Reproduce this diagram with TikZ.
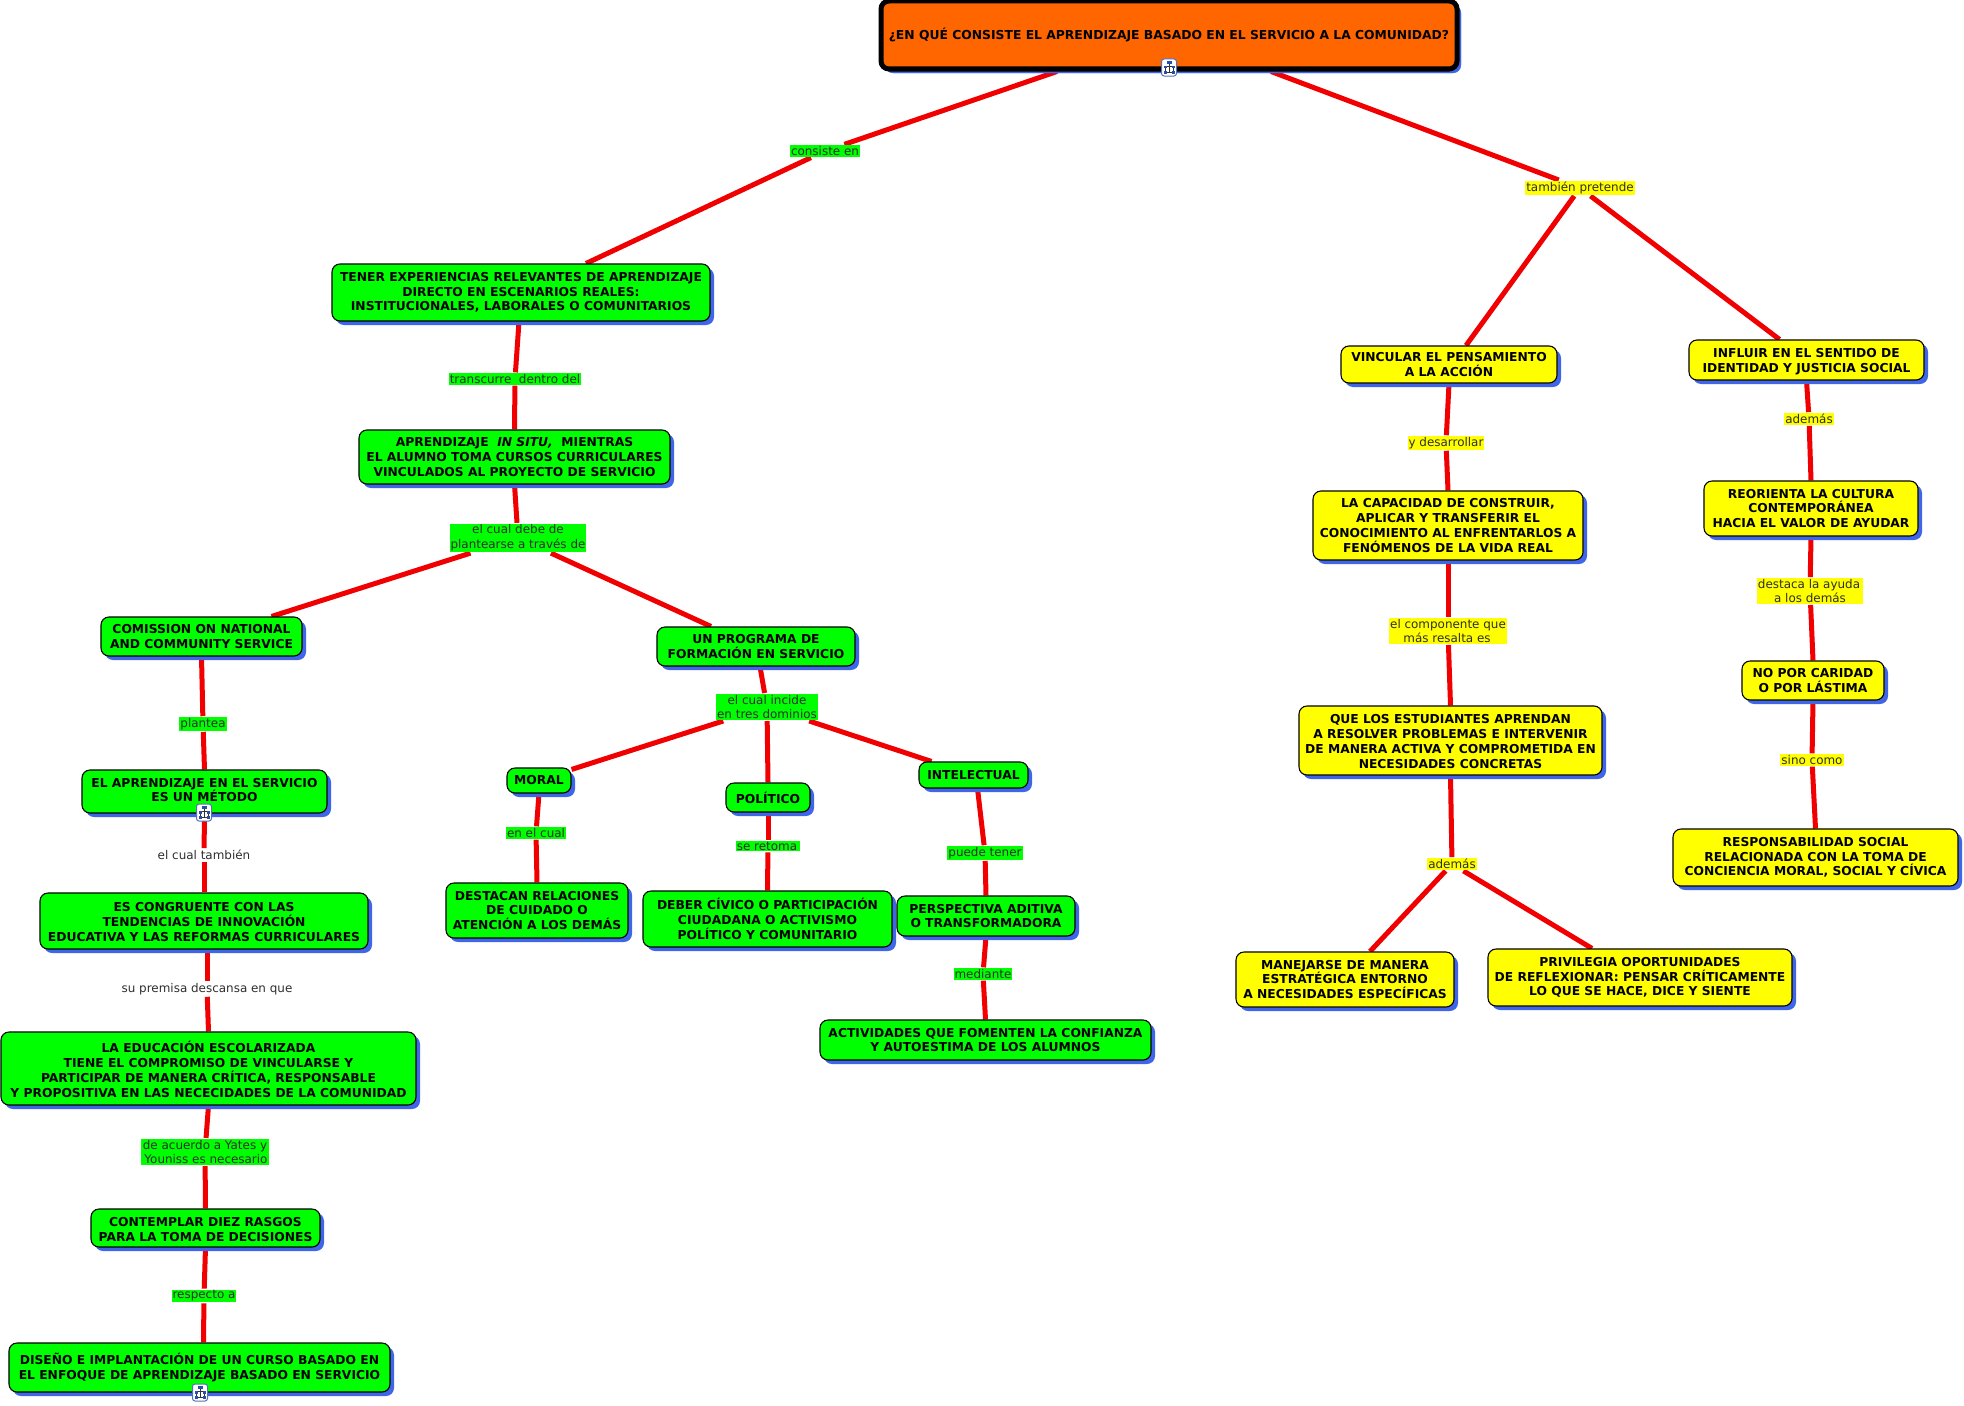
\documentclass[tikz,border=0pt]{standalone}
\usepackage{fontspec}
\setmainfont{DejaVu Sans}
\usetikzlibrary{shadows,backgrounds}
\definecolor{orangebox}{HTML}{FF6600}
\definecolor{shadowblue}{HTML}{3F66E8}
\definecolor{relred}{HTML}{F00000}
\definecolor{gr}{HTML}{00FF00}
\definecolor{ye}{HTML}{FFFF00}
\definecolor{iconblue}{HTML}{2A4FA8}
\tikzset{
  x=1pt,y=-1pt,
  box/.style={draw=black,line width=1.1pt,rounded corners=8pt,inner sep=0pt,align=center,
    font=\fontsize{12.3}{14.7}\selectfont\bfseries,text=black,
    drop shadow={shadow xshift=4pt,shadow yshift=-4pt,fill=shadowblue,opacity=1}},
  rootbox/.style={box,line width=5pt,fill=orangebox,
    font=\fontsize{12.35}{14.7}\selectfont\bfseries,
    drop shadow={shadow xshift=2.5pt,shadow yshift=-2.5pt,fill=shadowblue,opacity=1}},
  lab/.style={inner xsep=1pt,inner ysep=1pt,outer sep=1pt,align=center,
    font=\fontsize{11.95}{14.7}\selectfont,text=black!82},
  rel/.style={draw=relred,line width=5pt},
}
\newcommand{\dnt}[1]{\rule{0pt}{\dimexpr 9.2pt+#1pt+#1pt\relax}}
\newcommand{\upt}[1]{\rule[\dimexpr -#1pt-#1pt\relax]{0pt}{\dimexpr #1pt+#1pt\relax}}
\newcommand{\bx}[7][]{%
  \pgfmathsetmacro{\bw}{#5-#3}\pgfmathsetmacro{\bh}{#6-#4}%
  \pgfmathsetmacro{\bcx}{(#5+#3)/2}\pgfmathsetmacro{\bcy}{(#6+#4)/2}%
  \node[box,#1,minimum width=\bw pt,minimum height=\bh pt] (#2) at (\bcx,\bcy) {#7};}
\newcommand{\lb}[5]{\node[lab,fill=#4] (#1) at (#2,#3+1) {#5};}
\newcommand{\mapicon}[2]{%
  \begin{scope}[shift={(#1,#2)}]
    \draw[fill=white,draw=iconblue!80,line width=1pt,rounded corners=2.5pt] (-7.5,-8.5) rectangle (7.5,8.5);
    \draw[black!80,line width=.7pt] (0,-4) -- (0,-1) (-4,-1) -- (4,-1) (-4,-1) -- (-4,4) (4,-1) -- (4,4) (0,-1) -- (0,4) (-4,5) -- (4,5);
    \fill[iconblue] (-2.5,-6.5) rectangle (2.5,-3.5);
    \fill[iconblue] (-5.5,-1.5) rectangle (-2.5,1);
    \fill[iconblue] (2.5,-1.5) rectangle (5.5,1);
    \fill[iconblue] (-5.5,3.5) rectangle (-2.5,6);
    \fill[iconblue] (2.5,3.5) rectangle (5.5,6);
  \end{scope}}
\begin{document}
\begin{tikzpicture}
\useasboundingbox (0,0) rectangle (1964,1405);
% concepts
\bx[rootbox]{root}{881}{1}{1457}{69}{¿EN QUÉ CONSISTE EL APRENDIZAJE BASADO EN EL SERVICIO A LA COMUNIDAD?\upt{0.8}}
\bx[fill=gr]{a}{332}{264}{710}{321}{TENER EXPERIENCIAS RELEVANTES DE APRENDIZAJE\\DIRECTO EN ESCENARIOS REALES:\\INSTITUCIONALES, LABORALES O COMUNITARIOS}
\bx[fill=gr]{b}{359}{430}{670}{484}{APRENDIZAJE \ \textit{IN SITU,} \ MIENTRAS\\EL ALUMNO TOMA CURSOS CURRICULARES\\VINCULADOS AL PROYECTO DE SERVICIO}
\bx[fill=gr]{c}{101}{617}{302}{656}{COMISSION ON NATIONAL\\AND COMMUNITY SERVICE}
\bx[fill=gr]{d}{657}{627}{855}{666}{UN PROGRAMA DE\\FORMACIÓN EN SERVICIO}
\bx[fill=gr]{e}{82}{770}{327}{813}{EL APRENDIZAJE EN EL SERVICIO\\ES UN MÉTODO\upt{1.5}}
\bx[fill=gr]{f}{40}{893}{368}{949}{\dnt{1}ES CONGRUENTE CON LAS\\TENDENCIAS DE INNOVACIÓN\\EDUCATIVA Y LAS REFORMAS CURRICULARES}
\bx[fill=gr]{g}{1}{1032}{416}{1105}{\dnt{2}LA EDUCACIÓN ESCOLARIZADA\\TIENE EL COMPROMISO DE VINCULARSE Y\\PARTICIPAR DE MANERA CRÍTICA, RESPONSABLE\\Y PROPOSITIVA EN LAS NECECIDADES DE LA COMUNIDAD}
\bx[fill=gr]{h}{91}{1209}{320}{1247}{\dnt{1.5}CONTEMPLAR DIEZ RASGOS\\PARA LA TOMA DE DECISIONES}
\bx[fill=gr]{i}{9}{1343}{390}{1392}{DISEÑO E IMPLANTACIÓN DE UN CURSO BASADO EN\\EL ENFOQUE DE APRENDIZAJE BASADO EN SERVICIO}
\bx[fill=gr]{moral}{507}{768}{571}{793}{MORAL}
\bx[fill=gr]{pol}{726}{783}{810}{812}{POLÍTICO}
\bx[fill=gr]{inte}{919}{762}{1028}{788}{INTELECTUAL}
\bx[fill=gr]{dest}{446}{883}{628}{938}{DESTACAN RELACIONES\\DE CUIDADO O\\ATENCIÓN A LOS DEMÁS}
\bx[fill=gr]{deber}{643}{891}{892}{947}{DEBER CÍVICO O PARTICIPACIÓN\\CIUDADANA O ACTIVISMO\\POLÍTICO Y COMUNITARIO}
\bx[fill=gr]{pers}{897}{896}{1075}{936}{PERSPECTIVA ADITIVA\\O TRANSFORMADORA}
\bx[fill=gr]{act}{820}{1020}{1151}{1060}{ACTIVIDADES QUE FOMENTEN LA CONFIANZA\\Y AUTOESTIMA DE LOS ALUMNOS}
\bx[fill=ye]{vinc}{1341}{346}{1557}{383}{VINCULAR EL PENSAMIENTO\\A LA ACCIÓN}
\bx[fill=ye]{infl}{1689}{340}{1924}{380}{\dnt{1.5}INFLUIR EN EL SENTIDO DE\\IDENTIDAD Y JUSTICIA SOCIAL}
\bx[fill=ye]{capa}{1313}{491}{1583}{560}{LA CAPACIDAD DE CONSTRUIR,\\APLICAR Y TRANSFERIR EL\\CONOCIMIENTO AL ENFRENTARLOS A\\FENÓMENOS DE LA VIDA REAL}
\bx[fill=ye]{reor}{1704}{481}{1918}{536}{REORIENTA LA CULTURA\\CONTEMPORÁNEA\\HACIA EL VALOR DE AYUDAR}
\bx[fill=ye]{nopor}{1742}{661}{1884}{700}{NO POR CARIDAD\\O POR LÁSTIMA}
\bx[fill=ye]{que}{1299}{706}{1602}{775}{\dnt{1}QUE LOS ESTUDIANTES APRENDAN\\A RESOLVER PROBLEMAS E INTERVENIR\\DE MANERA ACTIVA Y COMPROMETIDA EN\\NECESIDADES CONCRETAS}
\bx[fill=ye]{resp}{1673}{829}{1958}{886}{RESPONSABILIDAD SOCIAL\\RELACIONADA CON LA TOMA DE\\CONCIENCIA MORAL, SOCIAL Y CÍVICA}
\bx[fill=ye]{manej}{1236}{952}{1454}{1007}{MANEJARSE DE MANERA\\ESTRATÉGICA ENTORNO\\A NECESIDADES ESPECÍFICAS}
\bx[fill=ye]{priv}{1488}{949}{1792}{1006}{PRIVILEGIA OPORTUNIDADES\\DE REFLEXIONAR: PENSAR CRÍTICAMENTE\\LO QUE SE HACE, DICE Y SIENTE}
% link labels
\lb{l1}{825}{150}{gr}{consiste en}
\lb{l2}{1580}{187}{ye}{también pretende}
\lb{l3}{515}{378}{gr}{transcurre \ dentro del}
\lb{l4}{518}{537}{gr}{el cual debe de\\plantearse a través de}
\lb{l5}{203}{723}{gr}{plantea}
\lb{l6}{204}{854}{white}{el cual también}
\lb{l7}{207}{988}{white}{su premisa descansa en que}
\lb{l8}{205}{1151}{gr}{de acuerdo a Yates y\\ \,Youniss es necesario}
\lb{l9}{204}{1295}{gr}{respecto a}
\lb{l10}{767}{706}{gr}{el cual incide\\en tres dominios}
\lb{l11}{536}{832}{gr}{en el cual}
\lb{l12}{768}{845}{gr}{se retoma\,}
\lb{l13}{985}{852}{gr}{puede tener}
\lb{l14}{983}{973}{gr}{mediante}
\lb{l15}{1446}{442}{ye}{y desarrollar}
\lb{l16}{1809}{418}{ye}{además}
\lb{l17}{1448}{630}{ye}{el componente que\\más resalta es\,}
\lb{l18}{1810}{590}{ye}{destaca la ayuda\,\\a los demás}
\lb{l19}{1812}{759}{ye}{sino como}
\lb{l20}{1452}{863}{ye}{además}
% connectors
\begin{scope}[on background layer]
\draw[rel] ([xshift=-112pt]root.south) -- (l1);
\draw[rel] (l1) -- ([xshift=65pt]a.north);
\draw[rel] ([xshift=102pt]root.south) -- (l2);
\draw[rel] (l2) -- ([xshift=17pt]vinc.north);
\draw[rel] (l2) -- ([xshift=-27pt]infl.north);
\draw[rel] ([xshift=-2pt]a.south) -- (l3);
\draw[rel] (l3) -- (b.north);
\draw[rel] (b.south) -- (l4);
\draw[rel] (l4) -- ([xshift=70pt]c.north);
\draw[rel] (l4) -- ([xshift=-45pt]d.north);
\draw[rel] (c.south) -- (l5);
\draw[rel] (l5) -- (e.north);
\draw[rel] (e.south) -- (l6);
\draw[rel] (l6) -- (f.north);
\draw[rel] ([xshift=3pt]f.south) -- (l7);
\draw[rel] (l7) -- (g.north);
\draw[rel] (g.south) -- (l8);
\draw[rel] (l8) -- (h.north);
\draw[rel] (h.south) -- (l9);
\draw[rel] (l9) -- ([xshift=4pt]i.north);
\draw[rel] ([xshift=4pt]d.south) -- (l10);
\draw[rel] (l10) -- ([yshift=-2pt]moral.north east);
\draw[rel] (l10) -- (pol.north);
\draw[rel] (l10) -- ([xshift=-42pt]inte.north);
\draw[rel] (moral.south) -- (l11);
\draw[rel] (l11) -- (dest.north);
\draw[rel] (pol.south) -- (l12);
\draw[rel] (l12) -- (deber.north);
\draw[rel] ([xshift=4pt]inte.south) -- (l13);
\draw[rel] (l13) -- (pers.north);
\draw[rel] (pers.south) -- (l14);
\draw[rel] (l14) -- (act.north);
\draw[rel] (vinc.south) -- (l15);
\draw[rel] (l15) -- (capa.north);
\draw[rel] (infl.south) -- (l16);
\draw[rel] (l16) -- (reor.north);
\draw[rel] (capa.south) -- (l17);
\draw[rel] (l17) -- (que.north);
\draw[rel] (reor.south) -- (l18);
\draw[rel] (l18) -- (nopor.north);
\draw[rel] (nopor.south) -- (l19);
\draw[rel] (l19) -- (resp.north);
\draw[rel] (que.south) -- (l20);
\draw[rel] (l20) -- ([xshift=25pt]manej.north);
\draw[rel] (l20) -- ([xshift=-48pt]priv.north);
\end{scope}
% sub-map icons
\mapicon{1169}{67.5}
\mapicon{204}{812.5}
\mapicon{200}{1392.5}
\end{tikzpicture}
\end{document}
